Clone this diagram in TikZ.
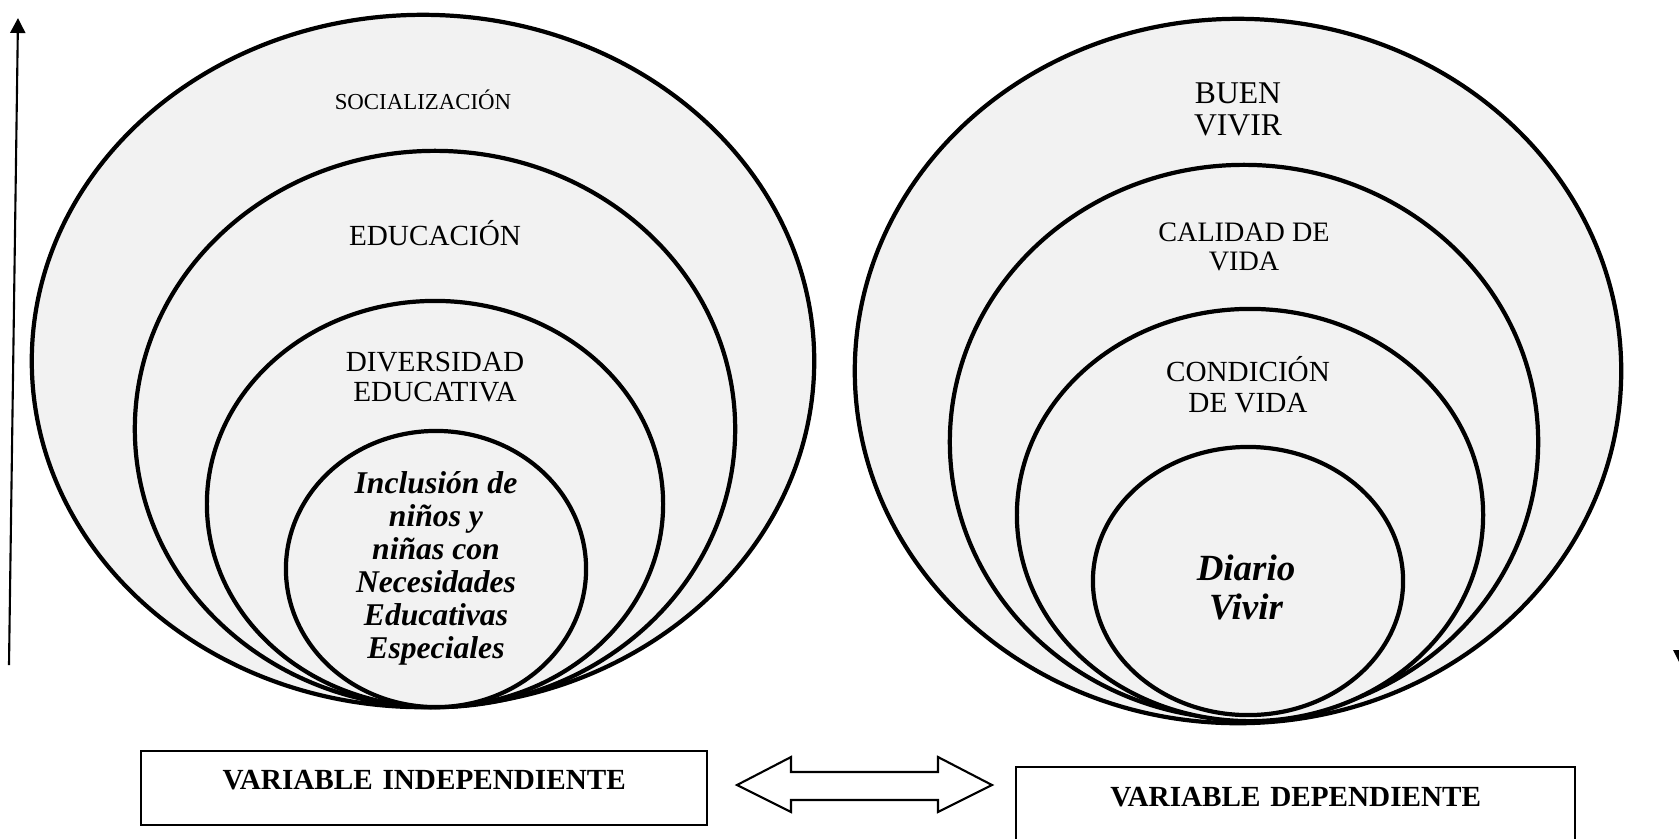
\documentclass[tikz,border=0pt]{standalone}
\usepackage{fontspec}
\setmainfont{Liberation Serif}
\usetikzlibrary{arrows.meta,positioning,calc}

\definecolor{ringfill}{RGB}{242,242,242}

\tikzset{
	ring/.style={fill=ringfill, draw=black, line width=1.2pt},
	lbl/.style={align=center, inner sep=0pt},
	varbox/.style={draw, line width=0.6pt, align=center, inner sep=0pt, font=\bfseries\fontsize{8.3}{9}\selectfont},
}

\begin{document}
\begin{tikzpicture}[x=0.01cm, y=-0.01cm]
			\useasboundingbox (0,0) rectangle (1679,838);
			% centres of the rings
			\coordinate (L1) at (423,361);
			\coordinate (L2) at (435,429);
			\coordinate (L3) at (435,504);
			\coordinate (L4) at (436,569);
			\coordinate (R1) at (1238,371);
			\coordinate (R2) at (1244,442);
			\coordinate (R3) at (1250,515);
			\coordinate (R4) at (1248,581);
			
			\filldraw[ring] (L1) ellipse [x radius=3.91cm, y radius=3.46cm];
			\filldraw[ring] (L2) ellipse [x radius=3.00cm, y radius=2.78cm];
			\filldraw[ring] (L3) ellipse [x radius=2.28cm, y radius=2.03cm];
			\filldraw[ring] (L4) ellipse [x radius=1.50cm, y radius=1.38cm];
			\filldraw[ring] (R1) ellipse [x radius=3.83cm, y radius=3.52cm];
			\filldraw[ring] (R2) ellipse [x radius=2.94cm, y radius=2.77cm];
			\filldraw[ring] (R3) ellipse [x radius=2.33cm, y radius=2.06cm];
			\filldraw[ring] (R4) ellipse [x radius=1.55cm, y radius=1.34cm];
			
			\node[lbl, font=\fontsize{6.5}{7}\selectfont] (soc) at (423,100) {SOCIALIZACIÓN};
			\node[lbl, font=\fontsize{8.3}{8.5}\selectfont] (edu) at (435,233) {EDUCACIÓN};
			\node[lbl, font=\fontsize{8.3}{8.5}\selectfont] (div) at (435,377) {DIVERSIDAD\\EDUCATIVA};
			\node[lbl, font=\bfseries\itshape\fontsize{9}{9.4}\selectfont] (inc) at (436,568) {Inclusión de\\niños y\\niñas con\\Necesidades\\Educativas\\Especiales};
			
			\node[lbl, font=\fontsize{9}{9.1}\selectfont] (buen) at (1238,109) {BUEN\\VIVIR};
			\node[lbl, font=\fontsize{8}{8.25}\selectfont] (cal) at (1244,247) {CALIDAD DE\\VIDA};
			\node[lbl, font=\fontsize{8.3}{8.8}\selectfont] (cond) at (1248,385) {CONDICIÓN\\DE VIDA};
			\node[lbl, font=\bfseries\itshape\fontsize{10.5}{11.1}\selectfont] (dia) at (1246,587) {Diario\\Vivir};
			
			\node[varbox, text width=5.66cm, text height=0.38cm, text depth=0.36cm, anchor=north west] (vi) at (140,750) {VARIABLE INDEPENDIENTE};
			\node[varbox, text width=5.59cm, text height=0.39cm, text depth=0.55cm, anchor=north west] (vd) at (1015,766) {VARIABLE DEPENDIENTE};
			
			% double arrow between the two variables
			\coordinate (da) at (737,785);
			\draw[line width=0.6pt, fill=white] (da) -- ++(54,-28) -- ++(0,15) -- ++(147,0) -- ++(0,-15) -- ++(54,28) -- ++(-54,27) -- ++(0,-12) -- ++(-147,0) -- ++(0,12) -- cycle;
			
			% side arrows
			\coordinate (up0) at (9,665);
			\coordinate (up1) at (18,18);
			\draw[line width=0.6pt, -{Triangle[width=0.15cm, length=0.15cm]}] (up0) -- (up1);
			\fill (1673,650) -- (1687,650) -- (1680,664) -- cycle;
		\end{tikzpicture}
\end{document}
